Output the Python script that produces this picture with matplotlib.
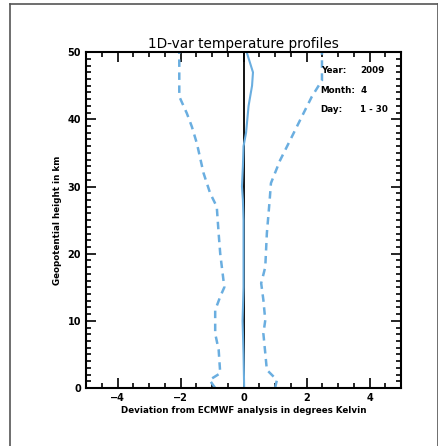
import matplotlib.pyplot as plt
from matplotlib.lines import Line2D
from matplotlib.ticker import MultipleLocator

# 1D-var temperature deviation profiles
height_lo = [0, 1.2, 2.2, 5.7, 8.1, 11.6, 13.6, 15, 20, 23, 27, 29, 32, 36.4, 38.9, 40.9, 43.4, 50]
lower = [-0.9, -1.08, -0.74, -0.79, -0.9, -0.9, -0.74, -0.61, -0.74, -0.79, -0.85, -1.06, -1.27, -1.48, -1.64, -1.8, -2.04, -2.04]

height_hi = [0, 1.2, 2.7, 5.2, 8.1, 10.1, 13.1, 15.6, 18, 23, 28, 30.5, 33.9, 36.9, 40.4, 43.4, 45.8, 50]
upper = [1.0, 1.06, 0.74, 0.69, 0.63, 0.69, 0.63, 0.56, 0.69, 0.74, 0.83, 0.87, 1.16, 1.48, 1.85, 2.17, 2.49, 2.49]

height_mean = [0, 5, 10, 15, 20, 25, 28, 30, 33, 36, 38, 42, 45, 47, 50]
mean = [0.02, 0.0, -0.03, 0.0, 0.0, 0.0, -0.02, -0.05, -0.02, 0.0, 0.08, 0.16, 0.27, 0.3, 0.1]

blue = "#6aaee0"

fig = plt.figure(figsize=(4.39, 4.46), dpi=100)
ax = fig.add_axes([0.196, 0.130, 0.7175, 0.753])

ax.plot([0, 0], [0, 50], color="black", lw=1.3)
ax.plot(lower, height_lo, color=blue, lw=1.8, ls=(0, (3, 2.2)))
ax.plot(upper, height_hi, color=blue, lw=1.8, ls=(0, (3, 2.2)))
ax.plot(mean, height_mean, color=blue, lw=1.5)

ax.set_xlim(-5, 5)
ax.set_ylim(0, 50)
ax.xaxis.set_major_locator(MultipleLocator(2))
ax.xaxis.set_minor_locator(MultipleLocator(0.5))
ax.yaxis.set_major_locator(MultipleLocator(10))
ax.yaxis.set_minor_locator(MultipleLocator(1))
ax.tick_params(which="both", direction="in", top=True, right=True, width=1.2,
               labelsize=7)
ax.tick_params(which="major", length=7)
ax.tick_params(which="minor", length=3.5)
for lab in ax.get_xticklabels() + ax.get_yticklabels():
    lab.set_fontweight("bold")
for s in ax.spines.values():
    s.set_linewidth(1.5)

ax.set_title("1D-var temperature profiles", fontsize=9.8, pad=3)
ax.set_xlabel("Deviation from ECMWF analysis in degrees Kelvin", fontsize=6.3,
              fontweight="bold", labelpad=2)
ax.set_ylabel("Geopotential height in km", fontsize=6.3, fontweight="bold",
              labelpad=4)

info = [("Year:", "2009"), ("Month:", "4"), ("Day:", "1 - 30")]
for i, (k, v) in enumerate(info):
    yy = 0.945 - i * 0.058
    ax.text(0.745, yy, k, transform=ax.transAxes, fontsize=6.3,
            fontweight="bold", va="center")
    ax.text(0.87, yy, v, transform=ax.transAxes, fontsize=6.3,
            fontweight="bold", va="center", ha="left")

# outer frame lines
fig.add_artist(Line2D([10 / 439, 10 / 439], [0, 1 - 4 / 446], color="#555555", lw=1.2))
fig.add_artist(Line2D([10 / 439, 438 / 439], [1 - 4 / 446, 1 - 4 / 446], color="#555555", lw=1.2))
fig.add_artist(Line2D([438 / 439, 438 / 439], [0, 1 - 4 / 446], color="#555555", lw=1.2))

fig.savefig("out.png", dpi=100)
